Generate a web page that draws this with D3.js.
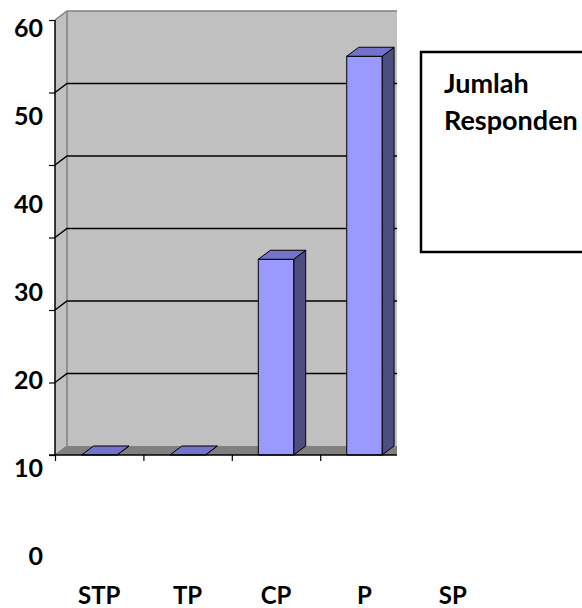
<!DOCTYPE html>
<html>
<head>
<meta charset="utf-8">
<script src="https://cdn.jsdelivr.net/npm/d3@7"></script>
<style>
    body { margin: 0; background: #fff; }
    svg text { font-family: Lato, "Open Sans", sans-serif; font-weight: bold; fill: #000; }
</style>
</head>
<body>
<svg></svg>
<script>
var categories = ['STP', 'TP', 'CP', 'P', 'SP'];
var values = [0, 0, 27, 55, 0];
var yTicks = [0, 10, 20, 30, 40, 50, 60];
var legendLines = ['Jumlah', 'Responden'];

var width = 582;
var height = 608;
var depthX = 12;
var depthY = -9;
var plotRight = 397;

var svg = d3.select('svg')
                .attr('width', width)
                .attr('height', height);

var xScale = d3.scaleBand()
                    .domain(categories)
                    .range([55, 497])
                    .padding(0);

var yScale = d3.scaleLinear()
                    .domain([0, 60])
                    .range([455, 20]);

// labels in the original sit lower than their ticks
var labelScale = d3.scaleLinear()
                        .domain([0, 60])
                        .range([556, 28]);

var x0 = xScale.range()[0];
var yBase = yScale(0);
var yTop = yScale(60);

svg.append('defs')
    .append('clipPath')
        .attr('id', 'plot-clip')
    .append('rect')
        .attr('x', 0)
        .attr('y', 0)
        .attr('width', plotRight)
        .attr('height', height);

var plot = svg.append('g')
                .attr('clip-path', 'url(#plot-clip)');

// side wall
plot.append('path')
    .attr('d', 'M' + x0 + ',' + yBase + 'L' + x0 + ',' + yTop +
               'L' + (x0 + depthX) + ',' + (yTop + depthY) +
               'L' + (x0 + depthX) + ',' + (yBase + depthY) + 'Z')
    .attr('fill', '#c0c0c0');

// back wall
plot.append('rect')
    .attr('x', x0 + depthX)
    .attr('y', yTop + depthY)
    .attr('width', plotRight - x0 - depthX + 5)
    .attr('height', yBase - yTop)
    .attr('fill', '#c0c0c0');

// floor
plot.append('path')
    .attr('d', 'M' + x0 + ',' + yBase + 'L' + (x0 + depthX) + ',' + (yBase + depthY) +
               'L' + (plotRight + 5) + ',' + (yBase + depthY) + 'L' + (plotRight + 5) + ',' + yBase + 'Z')
    .attr('fill', '#808080');

plot.append('path')
    .attr('d', 'M' + x0 + ',' + yTop + 'L' + (x0 + depthX) + ',' + (yTop + depthY) +
               'L' + (plotRight + 5) + ',' + (yTop + depthY) +
               'M' + (x0 + depthX) + ',' + (yTop + depthY) + 'L' + (x0 + depthX) + ',' + (yBase + depthY) +
               'M' + x0 + ',' + yBase + 'L' + (x0 + depthX) + ',' + (yBase + depthY))
    .attr('fill', 'none')
    .attr('stroke', '#808080')
    .attr('stroke-width', 1.5);

// gridlines
plot.selectAll('.grid')
    .data(yTicks.filter(d => d > 0 && d < 60))
    .enter()
    .append('path')
        .classed('grid', true)
        .attr('d', d => 'M' + x0 + ',' + yScale(d) + 'L' + (x0 + depthX) + ',' + (yScale(d) + depthY) +
                        'L' + (plotRight + 5) + ',' + (yScale(d) + depthY))
        .attr('fill', 'none')
        .attr('stroke', '#000')
        .attr('stroke-width', 1.5);

// bars
var barWidth = xScale.bandwidth() * 0.4;
var bars = plot.selectAll('.bar')
                .data(categories.map((c, i) => ({ cat: c, value: values[i] })))
                .enter()
                .append('g')
                    .classed('bar', true);

function barLeft(d) { return xScale(d.cat) + (xScale.bandwidth() - barWidth) / 2; }

bars.append('path')
    .attr('d', function(d) {
        var l = barLeft(d), r = l + barWidth, t = yScale(d.value);
        return 'M' + r + ',' + yBase + 'L' + r + ',' + t + 'L' + (r + depthX) + ',' + (t + depthY) +
               'L' + (r + depthX) + ',' + (yBase + depthY) + 'Z';
    })
    .attr('fill', '#4d4d80')
    .attr('stroke', '#000')
    .attr('stroke-width', 1);

bars.append('rect')
    .attr('x', barLeft)
    .attr('y', d => yScale(d.value))
    .attr('width', barWidth)
    .attr('height', d => yBase - yScale(d.value))
    .attr('fill', '#9999ff')
    .attr('stroke', '#000')
    .attr('stroke-width', 1);

bars.append('path')
    .attr('d', function(d) {
        var l = barLeft(d), r = l + barWidth, t = yScale(d.value);
        return 'M' + l + ',' + t + 'L' + r + ',' + t + 'L' + (r + depthX) + ',' + (t + depthY) +
               'L' + (l + depthX) + ',' + (t + depthY) + 'Z';
    })
    .attr('fill', '#7373cc')
    .attr('stroke', '#000')
    .attr('stroke-width', 1);

// axes
var yAxis = d3.axisLeft(yScale)
                .tickValues(yTicks)
                .tickSize(6)
                .tickFormat('');

svg.append('g')
    .classed('y-axis', true)
    .attr('transform', 'translate(' + x0 + ', 0)')
    .call(yAxis)
    .call(g => g.select('.domain').attr('stroke', '#000').attr('stroke-width', 1.5).attr('d', 'M0,' + yTop + 'V' + yBase));

var xTickScale = d3.scaleLinear()
                    .domain([0, categories.length])
                    .range(xScale.range());

var xAxis = d3.axisBottom(xTickScale)
                .tickValues(d3.range(0, categories.length).filter(i => xTickScale(i) < plotRight))
                .tickSize(6)
                .tickFormat('');

svg.append('g')
    .classed('x-axis', true)
    .attr('transform', 'translate(0, ' + yBase + ')')
    .call(xAxis)
    .call(g => g.select('.domain').attr('stroke', '#000').attr('stroke-width', 1.5).attr('d', 'M' + (x0 - 6) + ',0H' + plotRight));

svg.selectAll('.tick line').attr('stroke', '#000').attr('stroke-width', 1.2);

// y labels
svg.selectAll('.y-label')
    .data(yTicks)
    .enter()
    .append('text')
        .classed('y-label', true)
        .attr('x', 43)
        .attr('y', d => labelScale(d))
        .attr('dy', '0.36em')
        .attr('text-anchor', 'end')
        .attr('font-size', '25px')
        .text(d => d);

// category labels
svg.selectAll('.x-label')
    .data(categories)
    .enter()
    .append('text')
        .classed('x-label', true)
        .attr('x', d => xScale(d) + xScale.bandwidth() / 2)
        .attr('y', 604)
        .attr('text-anchor', 'middle')
        .attr('font-size', '24px')
        .text(d => d);

// legend
var legend = svg.append('g')
                .classed('legend', true);

legend.append('rect')
    .attr('x', 421)
    .attr('y', 52)
    .attr('width', 170)
    .attr('height', 200)
    .attr('fill', '#fff')
    .attr('stroke', '#000')
    .attr('stroke-width', 2.5);

legend.selectAll('text')
    .data(legendLines)
    .enter()
    .append('text')
        .attr('x', 444)
        .attr('y', (d, i) => 93 + i * 37)
        .attr('font-size', '27px')
        .text(d => d);
</script>
</body>
</html>
